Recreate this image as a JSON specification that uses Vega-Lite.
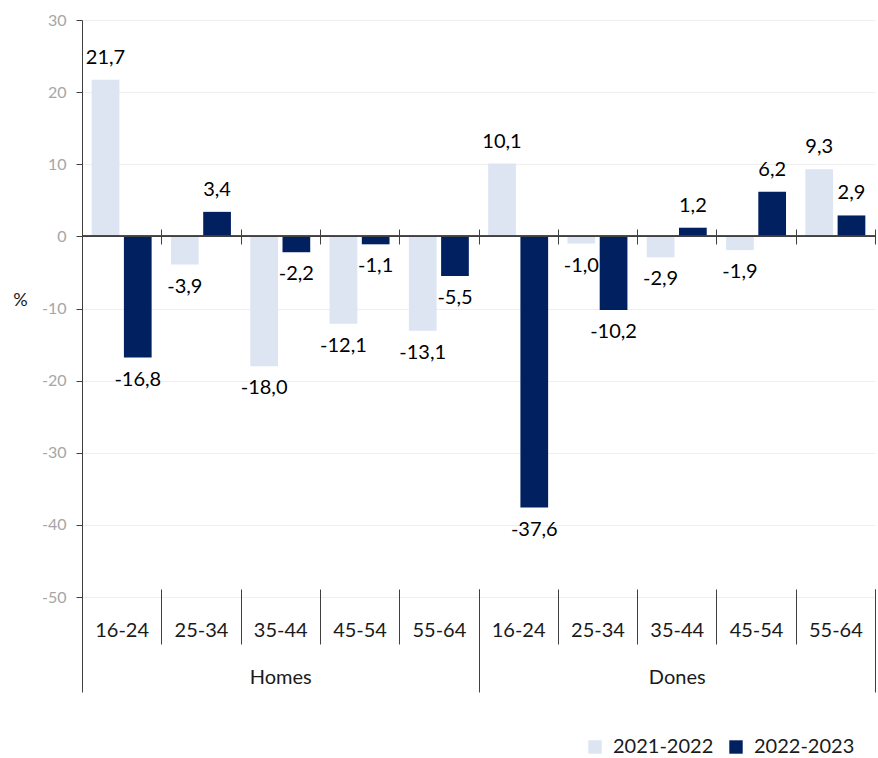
{
  "$schema": "https://vega.github.io/schema/vega-lite/v6.json",
  "width": 793,
  "height": 577,
  "autosize": {"type": "none"},
  "padding": {"left": 82, "top": 20, "right": 3, "bottom": 161},
  "config": {
    "font": "Lato",
    "locale": {"number": {"decimal": ",", "thousands": ".", "grouping": [3], "currency": ["", " €"], "minus": "-"}},
    "view": {"stroke": null},
    "axis": {"labelFont": "Lato", "titleFont": "Lato"}
  },
  "data": {"values": [
    {"sex": "Homes", "age": "16-24", "key": "Homes 16-24", "period": "2021-2022", "value": 21.7},
    {"sex": "Homes", "age": "16-24", "key": "Homes 16-24", "period": "2022-2023", "value": -16.8},
    {"sex": "Homes", "age": "25-34", "key": "Homes 25-34", "period": "2021-2022", "value": -3.9},
    {"sex": "Homes", "age": "25-34", "key": "Homes 25-34", "period": "2022-2023", "value": 3.4},
    {"sex": "Homes", "age": "35-44", "key": "Homes 35-44", "period": "2021-2022", "value": -18.0},
    {"sex": "Homes", "age": "35-44", "key": "Homes 35-44", "period": "2022-2023", "value": -2.2},
    {"sex": "Homes", "age": "45-54", "key": "Homes 45-54", "period": "2021-2022", "value": -12.1},
    {"sex": "Homes", "age": "45-54", "key": "Homes 45-54", "period": "2022-2023", "value": -1.1},
    {"sex": "Homes", "age": "55-64", "key": "Homes 55-64", "period": "2021-2022", "value": -13.1},
    {"sex": "Homes", "age": "55-64", "key": "Homes 55-64", "period": "2022-2023", "value": -5.5},
    {"sex": "Dones", "age": "16-24", "key": "Dones 16-24", "period": "2021-2022", "value": 10.1},
    {"sex": "Dones", "age": "16-24", "key": "Dones 16-24", "period": "2022-2023", "value": -37.6},
    {"sex": "Dones", "age": "25-34", "key": "Dones 25-34", "period": "2021-2022", "value": -1.0},
    {"sex": "Dones", "age": "25-34", "key": "Dones 25-34", "period": "2022-2023", "value": -10.2},
    {"sex": "Dones", "age": "35-44", "key": "Dones 35-44", "period": "2021-2022", "value": -2.9},
    {"sex": "Dones", "age": "35-44", "key": "Dones 35-44", "period": "2022-2023", "value": 1.2},
    {"sex": "Dones", "age": "45-54", "key": "Dones 45-54", "period": "2021-2022", "value": -1.9},
    {"sex": "Dones", "age": "45-54", "key": "Dones 45-54", "period": "2022-2023", "value": 6.2},
    {"sex": "Dones", "age": "55-64", "key": "Dones 55-64", "period": "2021-2022", "value": 9.3},
    {"sex": "Dones", "age": "55-64", "key": "Dones 55-64", "period": "2022-2023", "value": 2.9}
  ]},
  "resolve": {"scale": {"x": "independent"}, "axis": {"x": "independent"}},
  "layer": [
    {
      "mark": {"type": "bar"},
      "encoding": {
        "x": {"field": "key", "type": "nominal", "sort": null,
          "scale": {"domain": ["Homes 16-24","Homes 25-34","Homes 35-44","Homes 45-54","Homes 55-64","Dones 16-24","Dones 25-34","Dones 35-44","Dones 45-54","Dones 55-64"], "paddingInner": 0, "paddingOuter": 0},
          "axis": {"orient": "bottom", "offset": -8, "title": null, "domain": false, "grid": false, "tickBand": "extent", "tickSize": 55, "tickColor": "#404040", "labelPadding": -24, "labelAngle": 0, "labelFontSize": 20, "labelColor": "#1a1a1a", "labelExpr": "slice(datum.label, -5)"}},
        "xOffset": {"field": "period", "type": "nominal", "scale": {"domain": ["2021-2022", "2022-2023"], "paddingInner": 0.14, "paddingOuter": 0.3}},
        "y": {"field": "value", "type": "quantitative",
          "scale": {"domain": [-50, 30], "nice": false, "zero": false},
          "axis": {"values": [-50, -40, -30, -20, -10, 0, 10, 20, 30], "grid": true, "gridColor": "#efefef", "domainColor": "#404040", "tickColor": "#404040", "tickSize": 6, "labelColor": "#a6a6a6", "labelFontSize": 16, "labelPadding": 10, "title": "%", "titleAngle": 0, "titleX": -62, "titleY": 280, "titleFontSize": 18, "titleFontWeight": "normal", "titleColor": "#1a1a1a", "titleAlign": "center", "titleBaseline": "middle"}},
        "color": {"field": "period", "type": "nominal",
          "scale": {"domain": ["2021-2022", "2022-2023"], "range": ["#dce5f1", "#002060"]},
          "legend": {"orient": "none", "legendX": 503, "legendY": 717, "direction": "horizontal", "title": null, "symbolType": "square", "symbolSize": 180, "symbolStrokeWidth": 0, "labelFontSize": 20, "labelColor": "#1a1a1a", "labelOffset": 8, "columnPadding": 12, "padding": 0}}
      }
    },
    {
      "transform": [{"filter": "datum.value >= 0"}],
      "mark": {"type": "text", "dy": -22, "baseline": "middle", "fontSize": 20, "color": "#000000"},
      "encoding": {
        "x": {"field": "key", "type": "nominal", "sort": null,
          "scale": {"domain": ["Homes 16-24","Homes 25-34","Homes 35-44","Homes 45-54","Homes 55-64","Dones 16-24","Dones 25-34","Dones 35-44","Dones 45-54","Dones 55-64"], "paddingInner": 0, "paddingOuter": 0}, "axis": null},
        "xOffset": {"field": "period", "type": "nominal", "scale": {"domain": ["2021-2022", "2022-2023"], "paddingInner": 0.14, "paddingOuter": 0.3}},
        "y": {"field": "value", "type": "quantitative"},
        "text": {"field": "value", "type": "quantitative", "format": ".1f"}
      }
    },
    {
      "transform": [{"filter": "datum.value < 0"}],
      "mark": {"type": "text", "dy": 22, "baseline": "middle", "fontSize": 20, "color": "#000000"},
      "encoding": {
        "x": {"field": "key", "type": "nominal", "sort": null,
          "scale": {"domain": ["Homes 16-24","Homes 25-34","Homes 35-44","Homes 45-54","Homes 55-64","Dones 16-24","Dones 25-34","Dones 35-44","Dones 45-54","Dones 55-64"], "paddingInner": 0, "paddingOuter": 0}, "axis": null},
        "xOffset": {"field": "period", "type": "nominal", "scale": {"domain": ["2021-2022", "2022-2023"], "paddingInner": 0.14, "paddingOuter": 0.3}},
        "y": {"field": "value", "type": "quantitative"},
        "text": {"field": "value", "type": "quantitative", "format": ".1f"}
      }
    },
    {
      "mark": {"type": "rule", "color": "#404040", "strokeWidth": 1},
      "encoding": {"y": {"datum": 0}}
    },
    {
      "mark": {"type": "rule", "strokeOpacity": 0},
      "encoding": {
        "x": {"field": "sex", "type": "nominal", "sort": null,
          "scale": {"domain": ["Homes", "Dones"], "paddingInner": 0, "paddingOuter": 0},
          "axis": {"orient": "bottom", "offset": -8, "title": null, "domain": false, "grid": false, "tickBand": "extent", "tickSize": 103, "tickColor": "#404040", "labelPadding": -25, "labelAngle": 0, "labelFontSize": 20, "labelColor": "#1a1a1a"}}
      }
    },
    {
      "mark": {"type": "rule", "strokeOpacity": 0},
      "encoding": {
        "x": {"field": "key", "type": "nominal", "sort": null,
          "scale": {"domain": ["Homes 16-24","Homes 25-34","Homes 35-44","Homes 45-54","Homes 55-64","Dones 16-24","Dones 25-34","Dones 35-44","Dones 45-54","Dones 55-64"], "paddingInner": 0, "paddingOuter": 0},
          "axis": {"orient": "bottom", "offset": -368, "title": null, "domain": false, "grid": false, "labels": false, "tickBand": "extent", "tickSize": 15, "tickColor": "#404040"}}
      }
    }
  ]
}
